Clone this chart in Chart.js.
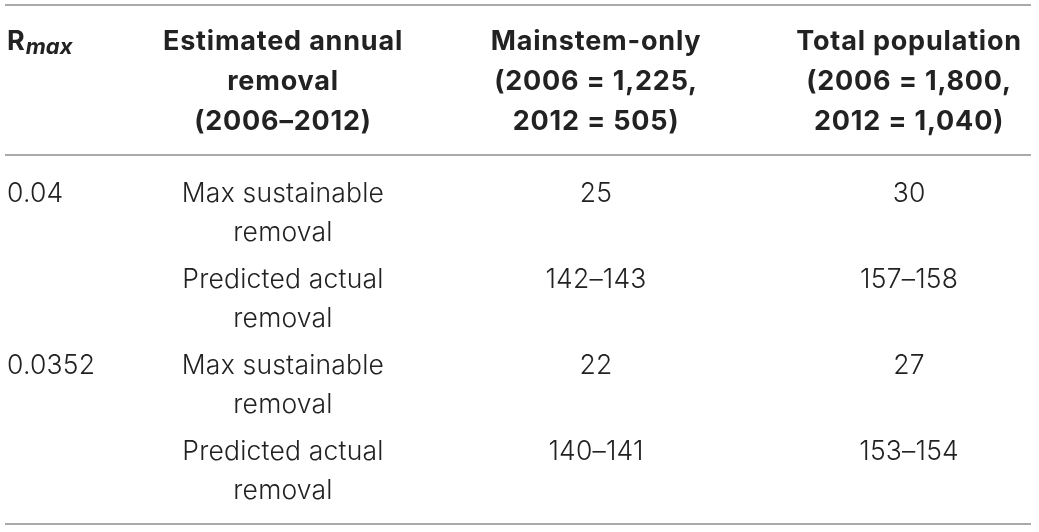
<!DOCTYPE html>
<html>
<head>
<meta charset="utf-8">
<script src="https://cdn.jsdelivr.net/npm/chart.js@4"></script>
<style>
  html, body { margin: 0; padding: 0; background: #fff; }
</style>
</head>
<body>
<canvas id="myChart" width="1039" height="532"></canvas>
<script>
// Dados da tabela
var columnKeys = ['rmax', 'removal', 'mainstem', 'total']
var headerLines = [
    ['R'],
    ['Estimated annual', 'removal', '(2006–2012)'],
    ['Mainstem-only', '(2006 = 1,225,', '2012 = 505)'],
    ['Total population', '(2006 = 1,800,', '2012 = 1,040)']
]
var rmaxSub = 'max'
var rmaxValues = ['0.04', '', '0.0352', '']
var removalTypes = [
    ['Max sustainable', 'removal'],
    ['Predicted actual', 'removal'],
    ['Max sustainable', 'removal'],
    ['Predicted actual', 'removal']
]
var mainstemValues = ['25', '142–143', '22', '140–141']
var totalValues = ['30', '157–158', '27', '153–154']

var rowLabels = removalTypes.map((t, i) => (rmaxValues[i] || rmaxValues[i - 1]) + ' ' + t.join(' '))

var textColor = '#222'
var ruleColor = '#8c8c8c'
var boldFont = 'bold 27px Inter, "Liberation Sans", sans-serif'
var bodyFont = '300 26.5px Inter, "Liberation Sans", sans-serif'
var subFont = 'italic bold 22px Inter, "Liberation Sans", sans-serif'

// Plugin que desenha a tabela usando as escalas
var tablePlugin = {
    id: 'tabela',
    afterDraw(chart) {
        var ctx = chart.ctx
        var sx = chart.scales.x
        var sy = chart.scales.y
        var area = chart.chartArea
        var left = 5, right = 1031

        ctx.save()
        // linhas horizontais
        ctx.strokeStyle = ruleColor
        ctx.lineWidth = 1.5
        ;[5, area.top - 5, area.bottom + 20].forEach((yy) => {
            ctx.beginPath()
            ctx.moveTo(left, yy)
            ctx.lineTo(right, yy)
            ctx.stroke()
        })

        ctx.fillStyle = textColor
        ctx.textBaseline = 'alphabetic'

        // cabeçalho
        var headBase = [area.top - 110, area.top - 70, area.top - 30]
        ctx.font = boldFont
        ctx.letterSpacing = '0px'
        ctx.textAlign = 'left'
        ctx.fillText(headerLines[0][0], 7, headBase[0])
        var rw = ctx.measureText(headerLines[0][0]).width
        ctx.font = subFont
        ctx.fillText(rmaxSub, 7 + rw + 1, headBase[0] + 4)

        ctx.font = boldFont
        ctx.letterSpacing = '0.8px'
        ctx.textAlign = 'center'
        for (var c = 1; c < columnKeys.length; c++) {
            headerLines[c].forEach((line, k) => {
                ctx.fillText(line, sx.getPixelForValue(c), headBase[k])
            })
        }

        // corpo
        ctx.font = bodyFont
        ctx.letterSpacing = '0.2px'
        rowLabels.forEach((lab, i) => {
            var cy = sy.getPixelForValue(i)
            var b1 = cy - 1, b2 = cy + 38
            ctx.textAlign = 'left'
            if (rmaxValues[i]) ctx.fillText(rmaxValues[i], 7, b1)
            ctx.textAlign = 'center'
            ctx.fillText(removalTypes[i][0], sx.getPixelForValue(1), b1)
            ctx.fillText(removalTypes[i][1], sx.getPixelForValue(1), b2)
            ctx.fillText(mainstemValues[i], sx.getPixelForValue(2), b1)
            ctx.fillText(totalValues[i], sx.getPixelForValue(3), b1)
        })
        ctx.restore()
    }
}

var ctx = document.getElementById('myChart').getContext('2d')
var myChart = new Chart(ctx, {
    type: 'scatter',
    data: {
        datasets: []
    },
    options: {
        responsive: false,
        animation: false,
        events: [],
        layout: {
            padding: { top: 160, bottom: 28, left: 0, right: 0 }
        },
        plugins: {
            legend: { display: false },
            tooltip: { enabled: false }
        },
        scales: {
            x: {
                type: 'linear',
                min: 0.096,
                max: 3.415,
                display: false
            },
            y: {
                type: 'category',
                labels: rowLabels,
                offset: true,
                display: false
            }
        }
    },
    plugins: [tablePlugin]
})
</script>
</body>
</html>
